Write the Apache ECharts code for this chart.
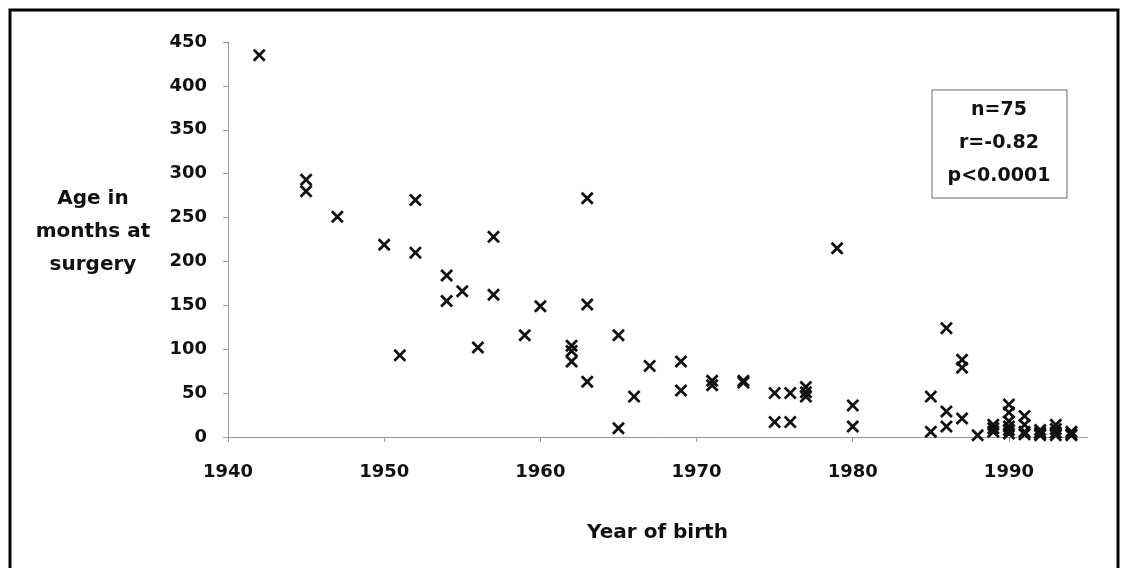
<!DOCTYPE html>
<html>
<head>
<meta charset="utf-8">
<script src="https://cdn.jsdelivr.net/npm/echarts@6/dist/echarts.min.js"></script>
<style>
  html, body { margin: 0; padding: 0; background: #fff; }
  #main { width: 1124px; height: 568px; }
</style>
</head>
<body>
<div id="main"></div>
<script>
// year of birth for each patient
var years = [
  1942, 1945, 1945, 1947, 1950, 1951, 1952, 1952, 1954, 1954,
  1955, 1956, 1957, 1957, 1959, 1960, 1962, 1962, 1962, 1963,
  1963, 1963, 1965, 1965, 1966, 1967, 1969, 1969, 1971, 1971,
  1973, 1973, 1975, 1975, 1976, 1976, 1977, 1977, 1977, 1979,
  1980, 1980, 1985, 1985, 1986, 1986, 1986, 1987, 1987, 1987,
  1988, 1989, 1989, 1989, 1990, 1990, 1990, 1990, 1990, 1990,
  1991, 1991, 1991, 1991, 1992, 1992, 1992, 1992, 1993, 1993,
  1993, 1993, 1994, 1994, 1994
];
// age in months at surgery
var ages = [
  435, 293, 280, 251, 219, 93, 270, 210, 184, 155,
  166, 102, 228, 162, 116, 149, 104, 98, 86, 272,
  151, 63, 116, 10, 46, 81, 86, 53, 64, 59,
  64, 62, 50, 17, 50, 17, 57, 51, 46, 215,
  36, 12, 46, 6, 124, 29, 12, 88, 79, 21,
  2, 14, 10, 6, 37, 28, 18, 12, 8, 4,
  24, 14, 6, 3, 8, 5, 3, 2, 14, 9,
  5, 2, 6, 3, 2
];
var xTicks = [1940, 1950, 1960, 1970, 1980, 1990];
var statLines = ['n=75', 'r=-0.82', 'p<0.0001'];

var points = [];
for (var i = 0; i < years.length; i++) {
  points.push([years[i], ages[i]]);
}

var font = '"DejaVu Sans", Arial, sans-serif';
var cross = 'path://M0,1.5L1.5,0L5,3.5L8.5,0L10,1.5L6.5,5L10,8.5L8.5,10L5,6.5L1.5,10L0,8.5L3.5,5Z';

var chart = echarts.init(document.getElementById('main'));
chart.setOption({
  backgroundColor: '#fff',
  animation: false,
  grid: { left: 228, right: 37, top: 42, bottom: 131 },
  xAxis: {
    type: 'value',
    min: 1940,
    max: 1995,
    interval: 10,
    name: 'Year of birth',
    nameLocation: 'middle',
    nameGap: 86,
    nameTextStyle: { fontFamily: font, fontWeight: 'bold', fontSize: 20, color: '#111' },
    splitLine: { show: false },
    axisLine: { lineStyle: { color: '#999', width: 1 } },
    axisTick: { length: 5, lineStyle: { color: '#999' }, customValues: xTicks },
    axisLabel: {
      customValues: xTicks,
      margin: 26,
      formatter: function (v) { return String(v); },
      fontFamily: font, fontWeight: 'bold', fontSize: 18, color: '#111'
    }
  },
  yAxis: {
    type: 'value',
    min: 0,
    max: 450,
    interval: 50,
    splitLine: { show: false },
    axisLine: { show: true, lineStyle: { color: '#999', width: 1 } },
    axisTick: { show: true, length: 5, lineStyle: { color: '#999' } },
    axisLabel: {
      margin: 21,
      fontFamily: font, fontWeight: 'bold', fontSize: 18, color: '#111'
    }
  },
  series: [{
    type: 'scatter',
    data: points,
    symbol: cross,
    symbolSize: [13, 13],
    itemStyle: { color: '#111', opacity: 1 }
  }],
  graphic: [
    {
      type: 'rect',
      shape: { x: 10, y: 10, width: 1108, height: 580 },
      style: { fill: null, stroke: '#000', lineWidth: 3 },
      silent: true
    },
    {
      type: 'text',
      x: 93, y: 232,
      style: {
        text: 'Age in\nmonths at\nsurgery',
        fontFamily: font, fontWeight: 'bold', fontSize: 20, fill: '#111',
        align: 'center', verticalAlign: 'middle', lineHeight: 33
      }
    },
    {
      type: 'rect',
      shape: { x: 932, y: 90, width: 135, height: 108 },
      style: { fill: '#fff', stroke: '#666', lineWidth: 1 },
      z: 10
    },
    {
      type: 'text',
      x: 999, y: 143,
      z: 11,
      style: {
        text: statLines.join('\n'),
        fontFamily: font, fontWeight: 'bold', fontSize: 19, fill: '#111',
        align: 'center', verticalAlign: 'middle', lineHeight: 33
      }
    }
  ]
});
</script>
</body>
</html>
